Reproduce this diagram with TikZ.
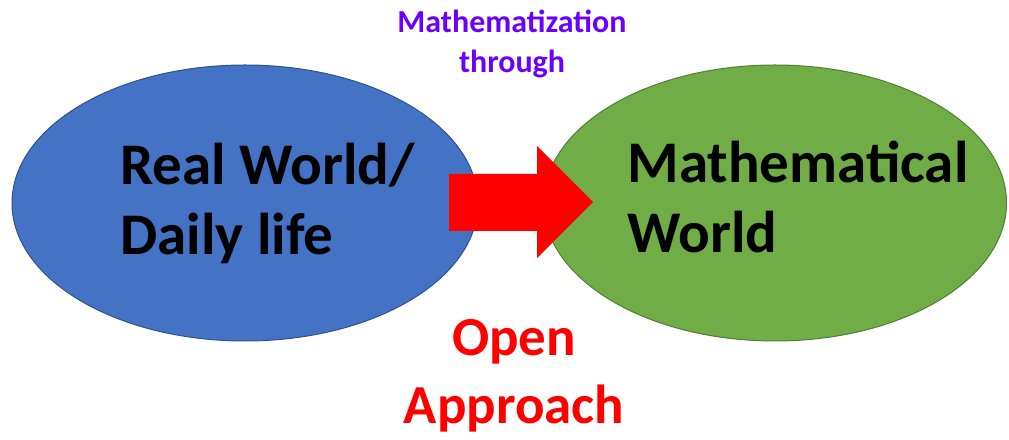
\documentclass[tikz,border=0pt]{standalone}
\usepackage{fontspec}
\setmainfont{Carlito}
\usepackage{xcolor}
\usetikzlibrary{shapes.geometric}
\definecolor{realblau}{HTML}{4472C4}
\definecolor{realrand}{HTML}{2F528F}
\definecolor{mathgruen}{HTML}{70AD47}
\definecolor{mathrand}{HTML}{507E32}
\definecolor{lila}{HTML}{6B00FF}
\definecolor{pfeilrot}{HTML}{FF0000}

\begin{document}
\begin{tikzpicture}[x=1pt, y=1pt, line width=1pt,
    blase/.style={ellipse, inner sep=0pt, minimum height=276pt},
    gross/.style={inner sep=0pt, font=\fontsize{59}{70}\selectfont\bfseries}]
\useasboundingbox (0,0) rectangle (1009,439);

            % blaue Ellipse links
            \node[blase, fill=realblau, draw=realrand, minimum width=466pt] (real) at (245,236) {};

            % gruene Ellipse rechts
            \node[blase, fill=mathgruen, draw=mathrand, minimum width=463pt] (mathe) at (775,236) {};

            % roter Blockpfeil
            \fill[pfeilrot] (449,208) -- (449,265) -- (537,265) -- (537,293) -- (593,237)
                -- (537,181) -- (537,208) -- cycle;

            % Texte in den Ellipsen
            \node[gross, anchor=base west, align=left] (realtext) at (120,184) {Real World/\\Daily life};
            \node[gross, anchor=base west, align=left] (mathtext) at (627,186) {Mathematical\\World};

            % Beschriftung oben
            \node[inner sep=0pt, anchor=base, align=center, text=lila,
                font=\fontsize{32}{40}\selectfont\bfseries] (durch) at (512,366) {Mathematization\\through};

            % Beschriftung unten
            \node[inner sep=0pt, anchor=base, align=center, text=pfeilrot,
                font=\fontsize{55}{68}\selectfont\bfseries] (offen) at (514,16) {Open\\Approach};

\end{tikzpicture}
\end{document}
